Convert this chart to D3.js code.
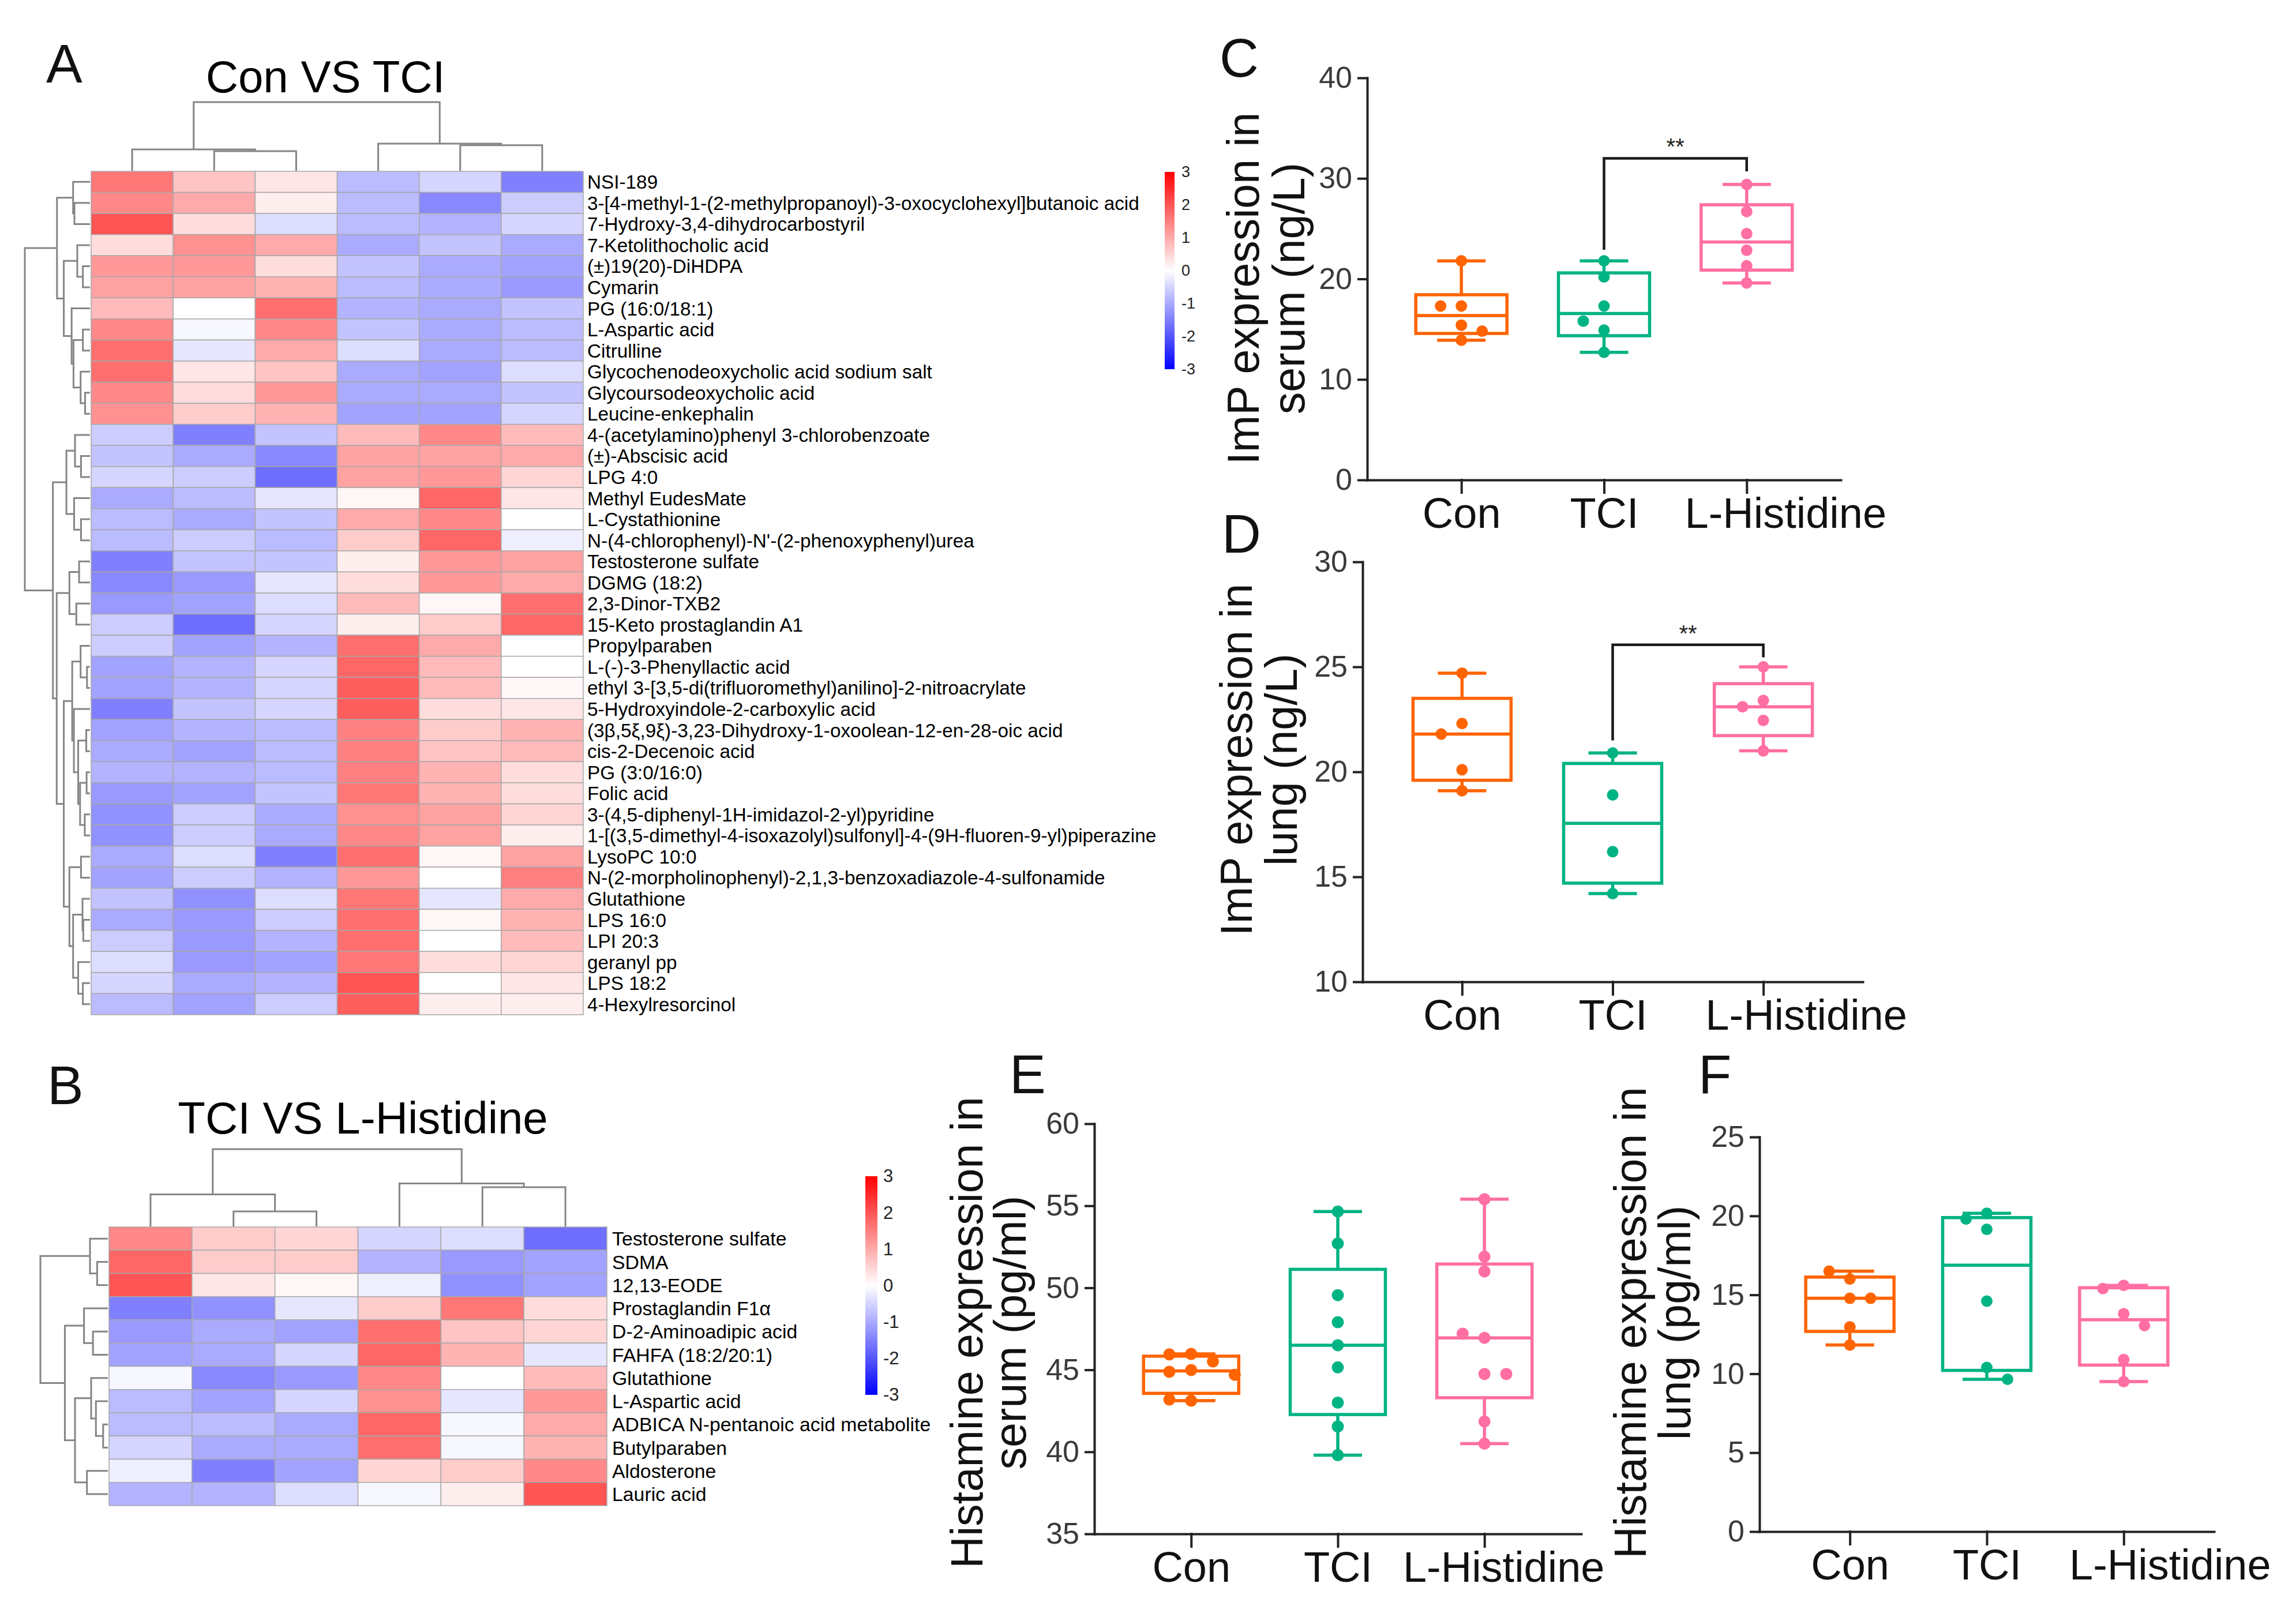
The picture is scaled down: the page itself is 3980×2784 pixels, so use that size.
<!DOCTYPE html>
<html>
<head>
<meta charset="utf-8">
<script src="https://cdn.jsdelivr.net/npm/d3@7"></script>
<style>
  body { margin: 0; background: #fff; }
  text { font-family: "Liberation Sans", Arial, sans-serif; }
</style>
</head>
<body>
<svg id="fig" width="3980" height="2784"></svg>
<script>
const FONT = '"Liberation Sans", Arial, sans-serif';

// ---------- heatmap A : Con VS TCI ----------
const namesA = [
  "NSI-189",
  "3-[4-methyl-1-(2-methylpropanoyl)-3-oxocyclohexyl]butanoic acid",
  "7-Hydroxy-3,4-dihydrocarbostyril",
  "7-Ketolithocholic acid",
  "(±)19(20)-DiHDPA",
  "Cymarin",
  "PG (16:0/18:1)",
  "L-Aspartic acid",
  "Citrulline",
  "Glycochenodeoxycholic acid sodium salt",
  "Glycoursodeoxycholic acid",
  "Leucine-enkephalin",
  "4-(acetylamino)phenyl 3-chlorobenzoate",
  "(±)-Abscisic acid",
  "LPG 4:0",
  "Methyl EudesMate",
  "L-Cystathionine",
  "N-(4-chlorophenyl)-N'-(2-phenoxyphenyl)urea",
  "Testosterone sulfate",
  "DGMG (18:2)",
  "2,3-Dinor-TXB2",
  "15-Keto prostaglandin A1",
  "Propylparaben",
  "L-(-)-3-Phenyllactic acid",
  "ethyl 3-[3,5-di(trifluoromethyl)anilino]-2-nitroacrylate",
  "5-Hydroxyindole-2-carboxylic acid",
  "(3β,5ξ,9ξ)-3,23-Dihydroxy-1-oxoolean-12-en-28-oic acid",
  "cis-2-Decenoic acid",
  "PG (3:0/16:0)",
  "Folic acid",
  "3-(4,5-diphenyl-1H-imidazol-2-yl)pyridine",
  "1-[(3,5-dimethyl-4-isoxazolyl)sulfonyl]-4-(9H-fluoren-9-yl)piperazine",
  "LysoPC 10:0",
  "N-(2-morpholinophenyl)-2,1,3-benzoxadiazole-4-sulfonamide",
  "Glutathione",
  "LPS 16:0",
  "LPI 20:3",
  "geranyl pp",
  "LPS 18:2",
  "4-Hexylresorcinol"
];
const heatA = [
  [1.6, 0.7, 0.3, -0.8, -0.5, -1.5],
  [1.4, 1.0, 0.2, -0.8, -1.4, -0.6],
  [2.0, 0.4, -0.4, -0.8, -0.9, -0.5],
  [0.4, 1.3, 1.0, -1.0, -0.7, -1.0],
  [1.2, 1.2, 0.4, -0.7, -1.0, -1.1],
  [1.1, 1.1, 0.9, -0.8, -1.0, -1.2],
  [0.8, 0.0, 1.7, -0.9, -1.0, -0.7],
  [1.4, -0.1, 1.4, -0.7, -1.0, -0.8],
  [1.7, -0.3, 1.0, -0.4, -1.0, -0.8],
  [1.7, 0.3, 0.7, -1.0, -1.1, -0.4],
  [1.4, 0.4, 1.2, -1.0, -1.0, -0.7],
  [1.3, 0.6, 0.9, -1.1, -1.1, -0.5],
  [-0.6, -1.5, -0.7, 0.8, 1.4, 0.8],
  [-0.7, -1.0, -1.4, 1.1, 1.1, 1.0],
  [-0.5, -0.6, -1.7, 1.1, 1.2, 0.5],
  [-1.0, -0.8, -0.3, 0.1, 1.8, 0.3],
  [-0.8, -1.0, -0.7, 1.0, 1.4, 0.0],
  [-0.8, -0.6, -0.8, 0.6, 1.8, -0.2],
  [-1.5, -0.7, -0.7, 0.2, 1.2, 1.1],
  [-1.4, -1.2, -0.3, 0.4, 1.2, 1.0],
  [-1.2, -1.1, -0.4, 0.8, 0.1, 1.7],
  [-0.6, -1.7, -0.5, 0.2, 0.6, 1.8],
  [-0.6, -1.1, -0.9, 1.7, 1.0, 0.0],
  [-1.1, -0.9, -0.5, 1.8, 0.8, 0.0],
  [-1.1, -0.9, -0.5, 1.9, 0.8, 0.1],
  [-1.5, -0.7, -0.5, 1.9, 0.4, 0.3],
  [-1.1, -0.9, -0.8, 1.5, 0.6, 0.9],
  [-1.0, -1.1, -0.8, 1.5, 0.7, 0.8],
  [-0.9, -0.9, -0.8, 1.5, 0.9, 0.4],
  [-1.2, -1.1, -0.7, 1.6, 0.9, 0.4],
  [-1.3, -0.6, -1.0, 1.3, 1.1, 0.5],
  [-1.3, -0.6, -1.0, 1.4, 1.1, 0.2],
  [-1.0, -0.4, -1.5, 1.7, 0.1, 1.1],
  [-1.1, -0.6, -0.9, 1.2, 0.0, 1.5],
  [-0.7, -1.3, -0.4, 1.6, -0.3, 1.0],
  [-1.0, -1.2, -0.6, 1.7, 0.1, 0.9],
  [-0.6, -1.2, -0.9, 1.7, 0.0, 0.8],
  [-0.4, -1.2, -1.1, 1.6, 0.4, 0.5],
  [-0.5, -1.0, -0.9, 2.0, 0.0, 0.3],
  [-0.8, -1.1, -0.6, 1.9, 0.2, 0.2]
];
// dendrograms: [mergeHeight, left, right], leaves are row/column indices
const rowTreeA = [100,
  [50.6,
    [25.9, 0, [23.9, 1, 2]],
    [40.2, [19.5, 3, [10.9, 4, 5]],
           [28.2, 6, [25.3, [10.9, 7, 8], [14.4, 9, [7.5, 10, 11]]]]]],
  [56.9,
    [36.2, [23, 12, [13.8, 13, 14]], [24.4, 15, [13.8, 16, 17]]],
    [51.1,
      [31.6, [16.7, 18, 19], [21, 20, 21]],
      [40.2,
        [27.3, [14.4, 22, [4.6, 23, 24]],
               [24.7, 25, [18.1, [5.7, 26, 27], [15.2, [5.2, 28, 29], [8, 30, 31]]]]],
        [31.6, [13.8, 32, 33],
               [25.9, [11.5, 34, [10.3, 35, 36]], [18.1, 37, [10.9, 38, 39]]]]]]]
];
const colTreeA = [100, [31, 0, [28.6, 1, 2]], [39.5, 3, [37.1, 4, 5]]];

// ---------- heatmap B : TCI VS L-Histidine ----------
const namesB = [
  "Testosterone sulfate", "SDMA", "12,13-EODE", "Prostaglandin F1α",
  "D-2-Aminoadipic acid", "FAHFA (18:2/20:1)", "Glutathione", "L-Aspartic acid",
  "ADBICA N-pentanoic acid metabolite", "Butylparaben", "Aldosterone", "Lauric acid"
];
const heatB = [
  [1.4, 0.6, 0.5, -0.5, -0.4, -1.7],
  [1.8, 0.6, 0.6, -0.9, -1.2, -1.1],
  [2.0, 0.3, 0.1, -0.2, -1.3, -1.1],
  [-1.5, -1.3, -0.3, 0.6, 1.6, 0.4],
  [-1.2, -1.0, -1.1, 1.7, 0.7, 0.5],
  [-1.1, -1.0, -0.5, 1.8, 0.9, -0.3],
  [-0.1, -1.4, -1.2, 1.4, 0.0, 0.8],
  [-0.8, -1.1, -0.5, 1.3, -0.3, 1.2],
  [-0.8, -0.8, -1.0, 1.8, -0.1, 1.0],
  [-0.5, -1.0, -1.0, 1.7, -0.1, 0.9],
  [-0.2, -1.5, -1.1, 0.5, 0.6, 1.4],
  [-0.9, -0.9, -0.4, -0.1, 0.2, 2.0]
];
const rowTreeB = [100,
  [26.5, 0, [15.9, 1, 2]],
  [63.7, [35.4, 3, [22.1, 4, 5]],
         [48.7, [24.8, 6, [17.7, 7, [7, 8, 9]]], [31, 10, 11]]]];
const colTreeB = [100, [41.5, 0, [19.4, 1, 2]], [55.6, 3, [50.8, 4, 5]]];
const legendTicks = [-3, -2, -1, 0, 1, 2, 3];

// ---------- box plots ----------
const groups = ["Con", "TCI", "L-Histidine"];
const impSerumCon = [21.8, 17.3, 17.3, 15.4, 14.8, 13.9];
const impSerumTci = [21.8, 20.2, 17.3, 14.9, 15.8, 12.7];
const impSerumHis = [29.4, 26.7, 24.5, 22.85, 21.3, 19.6];
const impSerumTicks = [0, 10, 20, 30, 40];
const impSerumSig = [22.9, 32.0, 30.7];

const impLungCon = [24.7, 22.3, 21.8, 20.1, 19.1];
const impLungTci = [20.9, 18.9, 16.2, 14.2];
const impLungHis = [25.0, 23.4, 23.1, 22.45, 21.0];
const impLungTicks = [10, 15, 20, 25, 30];
const impLungSig = [21.5, 26.05, 25.45];

const hisSerumCon = [45.97, 45.94, 45.51, 44.99, 44.88, 44.70, 43.12, 43.19];
const hisSerumTci = [54.65, 52.7, 49.55, 47.9, 46.5, 45.15, 43.0, 41.55, 39.8];
const hisSerumHis = [55.4, 51.9, 51.0, 46.95, 47.2, 44.75, 44.75, 41.85, 40.5];
const hisSerumTicks = [35, 40, 45, 50, 55, 60];

const hisLungCon = [16.0, 16.5, 14.78, 14.78, 12.97, 11.82];
const hisLungTci = [20.17, 19.8, 19.15, 14.6, 10.4, 9.65];
const hisLungHis = [15.6, 15.4, 13.8, 13.05, 10.9, 9.5];
const hisLungTicks = [0, 5, 10, 15, 20, 25];

const groupColors = ["#ff6400", "#00b383", "#ff6fa3"];

const svg = d3.select("#fig");
const defs = svg.append("defs");
const heatColor = d3.scaleLinear().domain([-3, 0, 3]).range(["#0000ff", "#ffffff", "#ff0000"]);

function drawTree(g, tree, leafPos, hScale, vertical) {
  function rec(node) {
    if (typeof node === "number") return { c: leafPos(node), h: 0 };
    const a = rec(node[1]), b = rec(node[2]);
    const h = hScale(node[0]), ha = hScale(a.h), hb = hScale(b.h);
    const d = vertical
      ? `M${a.c},${ha}V${h}H${b.c}V${hb}`
      : `M${ha},${a.c}H${h}V${b.c}H${hb}`;
    g.append("path").attr("d", d);
    return { c: (a.c + b.c) / 2, h: node[0] };
  }
  rec(tree);
}

function heatmap(o) {
  const g = svg.append("g");
  const x = d3.scaleBand().domain(d3.range(o.values[0].length)).range([o.left, o.right]);
  const y = d3.scaleBand().domain(d3.range(o.names.length)).range([o.top, o.bottom]);

  const cells = o.values.flatMap((row, i) => row.map((v, j) => ({ i, j, v })));
  g.selectAll("rect.cell").data(cells).join("rect")
    .attr("class", "cell")
    .attr("x", d => x(d.j)).attr("y", d => y(d.i))
    .attr("width", x.bandwidth()).attr("height", y.bandwidth())
    .attr("fill", d => heatColor(d.v))
    .attr("stroke", "#a8a8a8").attr("stroke-width", 1.5);

  g.selectAll("text.lab").data(o.names).join("text")
    .attr("class", "lab")
    .attr("x", o.labelX)
    .attr("y", (d, i) => y(i) + y.bandwidth() / 2)
    .attr("dy", "0.36em")
    .attr("font-size", o.font)
    .text(d => d);

  const gd = g.append("g").attr("fill", "none").attr("stroke", "#858585").attr("stroke-width", 3);
  const rowH = d3.scaleLinear().domain([0, 100]).range([o.left - 2, o.rowRoot]);
  drawTree(gd, o.rowTree, i => y(i) + y.bandwidth() / 2, rowH, false);
  const colH = d3.scaleLinear().domain([0, 100]).range([o.top - 1, o.colRoot]);
  drawTree(gd, o.colTree, j => x(j) + x.bandwidth() / 2, colH, true);

  g.append("text").attr("x", o.titleX).attr("y", o.titleY)
    .attr("text-anchor", "middle").attr("font-size", 78).text(o.title);

  // colour key
  const L = o.legend;
  const grad = defs.append("linearGradient").attr("id", o.id)
    .attr("x1", 0).attr("y1", 1).attr("x2", 0).attr("y2", 0);
  legendTicks.forEach(t => grad.append("stop")
    .attr("offset", (t + 3) / 6).attr("stop-color", heatColor(t)));
  g.append("rect").attr("x", L.x).attr("y", L.top).attr("width", L.w)
    .attr("height", L.bottom - L.top).attr("fill", `url(#${o.id})`);
  const ly = d3.scaleLinear().domain([-3, 3]).range([L.bottom, L.top]);
  const ax = g.append("g").attr("transform", `translate(${L.x + L.w},0)`)
    .call(d3.axisRight(ly).tickValues(legendTicks).tickSize(0)
      .tickPadding(L.pad).tickFormat(d => String(d)));
  ax.select(".domain").remove();
  ax.attr("font-family", FONT).attr("font-size", L.font);
  ax.selectAll("text").attr("fill", "#222");
}

function quart(vals, p) {
  const s = vals.slice().sort((a, b) => a - b), n = s.length;
  const pos = Math.min(Math.max((n + 1) * p, 1), n);
  const lo = Math.floor(pos), hi = Math.ceil(pos);
  return s[lo - 1] + (pos - lo) * (s[hi - 1] - s[lo - 1]);
}

function dodge(vals, y, minD) {
  const placed = [];
  let left = 0, right = 0;
  return vals.map(v => {
    const py = y(v);
    const free = k => placed.every(p => p.k !== k || Math.abs(p.y - py) >= minD);
    let k = 0;
    if (!free(0)) {
      const order = left <= right ? [-1, 1, -2, 2] : [1, -1, 2, -2];
      k = order.find(free) || 0;
      if (k < 0) left++; else right++;
    }
    placed.push({ y: py, k });
    return k;
  });
}

function boxPanel(o) {
  const g = svg.append("g");
  const y = d3.scaleLinear().domain([o.ticks[0], o.ticks[o.ticks.length - 1]]).range(o.yRange);
  const x = d3.scalePoint().domain(groups).range([o.axisX, o.axisEnd]).padding(0.66);

  const ya = g.append("g").attr("transform", `translate(${o.axisX},0)`)
    .call(d3.axisLeft(y).tickValues(o.ticks).tickSize(15).tickSizeOuter(0)
      .tickPadding(11).tickFormat(d => String(d)));
  ya.attr("font-family", FONT).attr("font-size", 52);
  ya.selectAll("text").attr("fill", "#3a3a3a");

  const xa = g.append("g").attr("transform", `translate(0,${o.yRange[0]})`)
    .call(d3.axisBottom(x).tickSize(22).tickSizeOuter(0).tickPadding(8));
  xa.attr("font-family", FONT).attr("font-size", 74);
  xa.selectAll("text").attr("fill", "#111")
    .filter(d => d === "L-Histidine").attr("dx", o.hisDx);
  [ya, xa].forEach(a => {
    a.selectAll("path, line").attr("stroke", "#222").attr("stroke-width", 4)
      .attr("stroke-linecap", "square");
  });

  o.data.forEach((vals, gi) => {
    const cx = x(groups[gi]), col = groupColors[gi];
    const q1 = quart(vals, 0.25), med = quart(vals, 0.5), q3 = quart(vals, 0.75);
    const lo = d3.min(vals), hi = d3.max(vals);
    const bg = g.append("g").attr("stroke", col).attr("stroke-width", 5.5).attr("fill", "none");
    bg.append("rect").attr("x", cx - o.bw / 2).attr("y", y(q3))
      .attr("width", o.bw).attr("height", y(q1) - y(q3));
    bg.append("line").attr("x1", cx - o.bw / 2).attr("x2", cx + o.bw / 2)
      .attr("y1", y(med)).attr("y2", y(med));
    bg.append("line").attr("x1", cx).attr("x2", cx).attr("y1", y(q3)).attr("y2", y(hi));
    bg.append("line").attr("x1", cx).attr("x2", cx).attr("y1", y(q1)).attr("y2", y(lo));
    [hi, lo].forEach(v => bg.append("line").attr("x1", cx - 42).attr("x2", cx + 42)
      .attr("y1", y(v)).attr("y2", y(v)));
    const ks = dodge(vals, y, o.r * 2.4);
    g.selectAll(null).data(vals).join("circle")
      .attr("cx", (d, i) => cx + ks[i] * o.r * 3.6)
      .attr("cy", d => y(d)).attr("r", o.r).attr("fill", col);
  });

  if (o.sig) {
    const x1 = x("TCI"), x2 = x("L-Histidine");
    g.append("path")
      .attr("d", `M${x1},${y(o.sig[0])}V${y(o.sig[1])}H${x2}V${y(o.sig[2])}`)
      .attr("fill", "none").attr("stroke", "#1a1a1a").attr("stroke-width", 4.5);
    g.append("text").attr("x", (x1 + x2) / 2).attr("y", y(o.sig[1]) - 6)
      .attr("text-anchor", "middle").attr("font-size", 40).attr("fill", "#222").text("**");
  }

  o.ylab.forEach((t, i) => g.append("text")
    .attr("transform", `translate(${o.ylabX[i]},${o.ylabY}) rotate(-90)`)
    .attr("text-anchor", "middle").attr("font-size", 77).attr("fill", "#111").text(t));
}

function letter(t, x, y) {
  svg.append("text").attr("x", x).attr("y", y).attr("font-size", 94).attr("fill", "#111").text(t);
}

heatmap({
  id: "keyA", names: namesA, values: heatA, rowTree: rowTreeA, colTree: colTreeA,
  left: 158, right: 1011, top: 297, bottom: 1759, rowRoot: 43, colRoot: 177,
  labelX: 1018, font: 33.3, title: "Con VS TCI", titleX: 564, titleY: 160,
  legend: { x: 2019, w: 17, top: 298, bottom: 640, pad: 12, font: 27 }
});
heatmap({
  id: "keyB", names: namesB, values: heatB, rowTree: rowTreeB, colTree: colTreeB,
  left: 189, right: 1052, top: 2127, bottom: 2610, rowRoot: 70, colRoot: 1992,
  labelX: 1061, font: 33.8, title: "TCI VS L-Histidine", titleX: 629, titleY: 1965,
  legend: { x: 1500, w: 21, top: 2039, bottom: 2418, pad: 10, font: 31 }
});

boxPanel({
  data: [impSerumCon, impSerumTci, impSerumHis], ticks: impSerumTicks, sig: impSerumSig,
  axisX: 2370, axisEnd: 3191, yRange: [832, 135], bw: 158, r: 10, hisDx: 67,
  ylab: ["ImP expression in", "serum (ng/L)"], ylabX: [2182, 2261], ylabY: 500
});
boxPanel({
  data: [impLungCon, impLungTci, impLungHis], ticks: impLungTicks, sig: impLungSig,
  axisX: 2362, axisEnd: 3229, yRange: [1702, 974], bw: 170, r: 10, hisDx: 74,
  ylab: ["ImP expression in", "lung (ng/L)"], ylabX: [2170, 2248], ylabY: 1317
});
boxPanel({
  data: [hisSerumCon, hisSerumTci, hisSerumHis], ticks: hisSerumTicks,
  axisX: 1897, axisEnd: 2741, yRange: [2659, 1948], bw: 165, r: 10.5, hisDx: 33,
  ylab: ["Histamine expression in", "serum (pg/ml)"], ylabX: [1703, 1778], ylabY: 2310
});
boxPanel({
  data: [hisLungCon, hisLungTci, hisLungHis], ticks: hisLungTicks,
  axisX: 3050, axisEnd: 3838, yRange: [2655, 1971], bw: 153, r: 10, hisDx: 80,
  ylab: ["Histamine expression in", "lung (pg/ml)"], ylabX: [2853, 2930], ylabY: 2293
});

letter("A", 80, 143);
letter("B", 82, 1914);
letter("C", 2114, 133);
letter("D", 2118, 958);
letter("E", 1750, 1895);
letter("F", 2944, 1895);
</script>
</body>
</html>
